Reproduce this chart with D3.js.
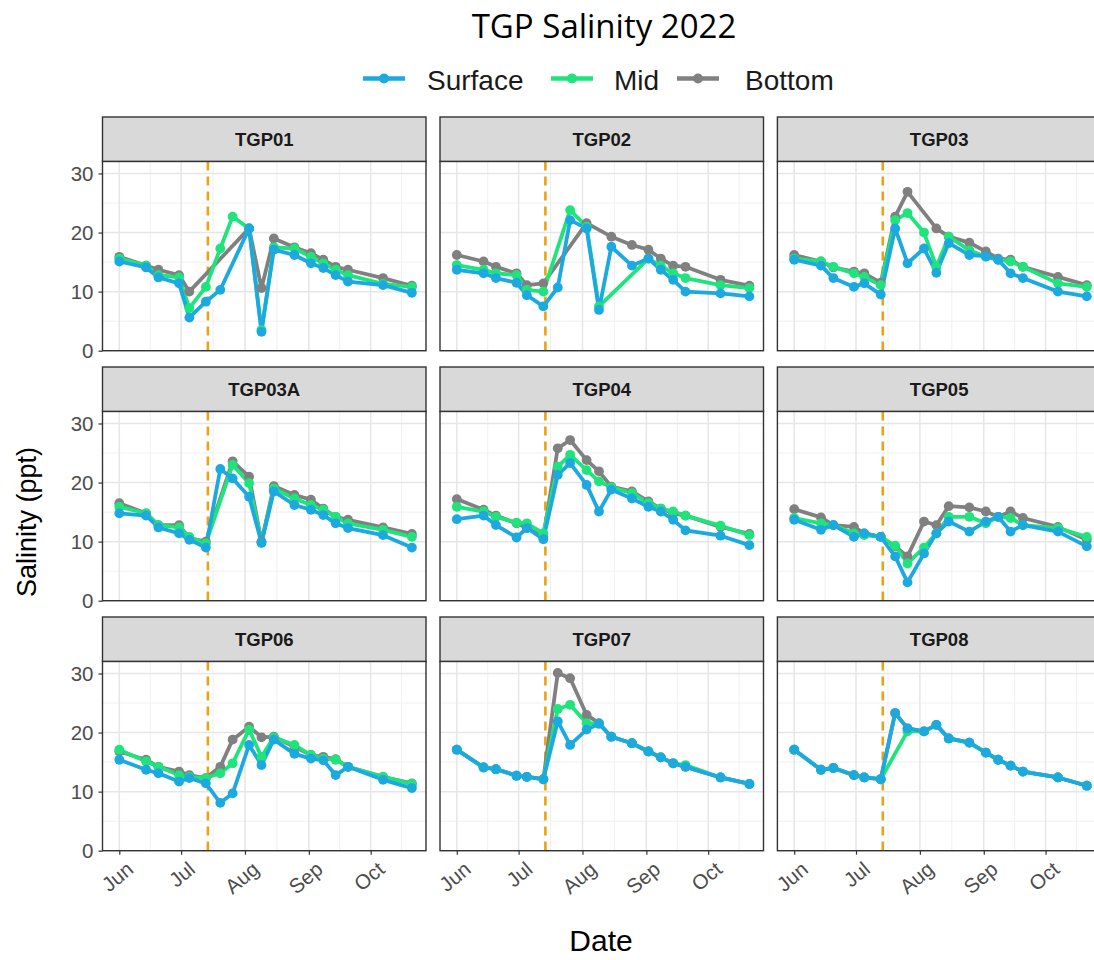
<!DOCTYPE html>
<html>
<head>
<meta charset="utf-8">
<script src="https://cdn.jsdelivr.net/npm/d3@7"></script>
<style>
  html, body { margin: 0; padding: 0; background: #ffffff; }
  svg { display: block; }
</style>
</head>
<body>
<svg id="chart" width="1094" height="960"></svg>
<script>
// Sampling dates shared by all stations
const sampleDates = ["2022-06-01","2022-06-14","2022-06-20","2022-06-30","2022-07-05","2022-07-13",
  "2022-07-20","2022-07-26","2022-08-03","2022-08-09","2022-08-15","2022-08-25","2022-09-02",
  "2022-09-08","2022-09-14","2022-09-20","2022-10-07","2022-10-21"];
const stations = ["TGP01","TGP02","TGP03","TGP03A","TGP04","TGP05","TGP06","TGP07","TGP08"];
const depths = ["Surface","Mid","Bottom"];
const eventDate = "2022-07-14";
const monthTicks = ["2022-06-01","2022-07-01","2022-08-01","2022-09-01","2022-10-01"];
const monthLabels = ["Jun","Jul","Aug","Sep","Oct"];
const yTicks = [0, 10, 20, 30];

// Salinity (ppt) by station and depth; null = no sample
const surface01 = [15.1,14.1,12.4,11.4,5.6,8.3,10.3,null,20.7,3.2,17.1,16.2,14.8,14.0,12.8,11.7,11.1,9.8];
const mid01     = [15.6,14.4,12.8,12.4,7.2,10.8,17.3,22.7,20.7,3.5,17.5,17.3,15.9,14.8,13.7,12.8,11.3,10.8];
const bottom01  = [15.9,14.4,13.7,12.8,10.0,null,null,null,20.7,10.6,19.0,17.5,16.5,15.4,14.2,13.7,12.3,11.0];

const surface02 = [13.7,13.1,12.3,11.5,9.4,7.5,10.7,22.1,20.7,6.9,17.6,14.4,15.6,13.7,12.0,10.0,9.7,9.2];
const mid02     = [14.5,13.7,13.1,12.8,10.3,10.0,null,23.8,21.0,7.5,null,null,15.6,14.4,13.1,12.3,11.1,10.6];
const bottom02  = [16.2,15.1,14.2,13.1,11.1,11.4,null,null,21.6,null,19.3,17.9,17.1,15.6,14.4,14.2,12.0,11.0];

const surface03 = [15.4,14.4,12.3,10.8,11.4,9.5,20.7,14.8,17.3,13.2,18.2,16.2,16.0,15.4,13.1,12.3,10.0,9.2];
const mid03     = [15.6,15.1,14.2,13.1,12.5,11.1,22.1,23.3,20.0,14.2,19.3,17.0,15.9,15.4,15.1,14.2,11.4,10.8];
const bottom03  = [16.2,15.1,14.1,13.4,13.1,11.5,22.7,26.9,null,20.7,19.3,18.3,16.8,15.6,15.4,14.2,12.5,11.1];

const surface03A = [14.8,14.4,12.4,11.4,10.3,9.0,22.3,20.7,17.6,9.8,18.5,16.2,15.4,14.5,13.1,12.3,11.1,9.0];
const mid03A     = [15.9,14.8,12.8,12.4,10.8,9.7,null,23.0,19.9,9.8,19.0,17.3,16.2,15.4,14.2,13.1,12.0,10.8];
const bottom03A  = [16.5,14.8,12.8,12.8,10.6,10.0,null,23.6,21.0,10.0,19.4,17.9,17.1,15.6,14.2,13.7,12.4,11.3];

const surface04 = [13.8,14.4,12.8,10.7,12.3,10.4,21.3,23.3,19.6,15.1,18.8,17.3,15.9,15.1,13.7,11.9,11.0,9.4];
const mid04     = [15.9,15.1,14.2,13.2,13.1,11.4,22.7,24.7,22.1,20.2,19.2,18.2,16.5,15.6,15.1,14.4,12.7,11.1];
const bottom04  = [17.2,15.4,14.4,13.1,12.3,10.8,25.8,27.2,23.8,21.9,19.3,18.5,16.8,15.6,14.8,14.4,12.5,11.3];

const surface05 = [13.7,12.0,12.8,10.8,11.4,10.8,7.5,3.1,8.0,11.4,13.4,11.7,13.4,14.2,11.7,12.8,11.7,9.2];
const mid05     = [14.0,13.1,12.8,11.4,11.1,10.8,9.3,6.3,9.0,11.4,14.2,14.2,13.1,14.2,14.0,12.8,12.3,10.8];
const bottom05  = [15.5,14.1,12.8,12.5,11.4,10.8,9.2,7.5,13.4,12.8,16.0,15.8,15.1,14.2,15.1,14.0,12.5,10.3];

const surface06 = [15.4,13.7,13.1,11.7,12.3,11.4,8.1,9.7,17.9,14.5,18.8,16.4,15.6,15.3,12.8,14.2,12.0,10.6];
const mid06     = [17.1,15.1,14.2,12.8,12.5,12.3,13.1,14.8,20.5,15.9,19.2,17.9,16.2,15.6,15.4,14.2,12.5,11.3];
const bottom06  = [16.8,15.4,14.2,13.4,12.8,12.3,14.2,18.8,21.0,19.2,19.3,17.6,16.2,15.9,15.5,14.2,12.5,11.4];

const surface07 = [17.1,14.1,13.8,12.7,12.5,12.1,21.9,17.9,20.5,21.5,19.3,18.2,16.8,15.8,14.8,14.2,12.4,11.3];
const mid07     = [17.1,14.1,13.8,12.7,12.5,12.1,24.0,24.7,21.6,21.5,19.3,18.2,16.8,15.8,14.8,14.5,12.4,11.3];
const bottom07  = [17.1,14.1,13.8,12.7,12.5,12.1,30.1,29.2,23.0,21.6,19.3,18.2,16.8,15.8,14.8,14.2,12.4,11.3];

const surface08 = [17.1,13.7,14.0,12.8,12.4,12.1,23.3,20.7,20.2,21.3,19.0,18.3,16.6,15.4,14.4,13.4,12.4,11.0];
const mid08     = [17.1,13.7,14.0,12.8,12.4,12.1,null,20.2,20.2,21.3,19.0,18.3,16.6,15.4,14.4,13.4,12.4,11.0];
const bottom08  = [17.1,13.7,14.0,12.8,12.4,12.1,23.3,20.7,20.2,21.3,19.0,18.3,16.6,15.4,14.4,13.4,12.4,11.0];

const seriesByStation = {
  TGP01:  { Surface: surface01,  Mid: mid01,  Bottom: bottom01 },
  TGP02:  { Surface: surface02,  Mid: mid02,  Bottom: bottom02 },
  TGP03:  { Surface: surface03,  Mid: mid03,  Bottom: bottom03 },
  TGP03A: { Surface: surface03A, Mid: mid03A, Bottom: bottom03A },
  TGP04:  { Surface: surface04,  Mid: mid04,  Bottom: bottom04 },
  TGP05:  { Surface: surface05,  Mid: mid05,  Bottom: bottom05 },
  TGP06:  { Surface: surface06,  Mid: mid06,  Bottom: bottom06 },
  TGP07:  { Surface: surface07,  Mid: mid07,  Bottom: bottom07 },
  TGP08:  { Surface: surface08,  Mid: mid08,  Bottom: bottom08 }
};

const colors = { Surface: "#1ca9e0", Mid: "#1fe47c", Bottom: "#808080" };

// ---- layout ----
const svg = d3.select("#chart");
svg.append("rect").attr("width", 1094).attr("height", 960).attr("fill", "#ffffff");

const parse = d3.utcParse("%Y-%m-%d");
const dates = sampleDates.map(parse);
const dayMs = 86400000;

const panelW = 323.5, stripH = 44.5, plotH = 189.2;
const colX = [102.5, 440, 777.4];
const rowY = [117, 367, 617];

const x = d3.scaleUtc()
  .domain([new Date(+dates[0] - 8.15 * dayMs), new Date(+dates[dates.length - 1] + 6.85 * dayMs)])
  .range([0, panelW]);
const y = d3.scaleLinear().domain([0, 32.03]).range([plotH, 0]);

const majorX = monthTicks.map(parse);
const minorX = majorX.map((d, i) => {
  const next = i < majorX.length - 1 ? majorX[i + 1] : new Date(+d + (d - majorX[i - 1]));
  return new Date((+d + +next) / 2);
}).filter(d => x(d) <= panelW);
const minorY = [5, 15, 25];

const line = d3.line()
  .x(d => x(d.date))
  .y(d => y(d.v));

const drawOrder = ["Bottom", "Mid", "Surface"];

stations.forEach((st, i) => {
  const col = i % 3, row = Math.floor(i / 3);
  const g = svg.append("g").attr("transform", `translate(${colX[col]},${rowY[row]})`);

  // strip
  g.append("rect").attr("x", 0).attr("y", 0).attr("width", panelW).attr("height", stripH)
    .attr("fill", "#d9d9d9").attr("stroke", "#333333").attr("stroke-width", 1.4);
  g.append("text").attr("x", panelW / 2).attr("y", stripH / 2 + 6.5)
    .attr("text-anchor", "middle").attr("font-family", "Liberation Sans, Arial, sans-serif")
    .attr("font-weight", "bold").attr("font-size", 18.5).attr("fill", "#1a1a1a").text(st);

  const p = g.append("g").attr("transform", `translate(0,${stripH})`);
  p.append("rect").attr("width", panelW).attr("height", plotH).attr("fill", "#ffffff");

  // grid
  p.selectAll(".gminx").data(minorX).join("line")
    .attr("x1", d => x(d)).attr("x2", d => x(d)).attr("y1", 0).attr("y2", plotH)
    .attr("stroke", "#f0f0f0").attr("stroke-width", 1);
  p.selectAll(".gminy").data(minorY).join("line")
    .attr("y1", d => y(d)).attr("y2", d => y(d)).attr("x1", 0).attr("x2", panelW)
    .attr("stroke", "#f0f0f0").attr("stroke-width", 1);
  p.selectAll(".gmajx").data(majorX).join("line")
    .attr("x1", d => x(d)).attr("x2", d => x(d)).attr("y1", 0).attr("y2", plotH)
    .attr("stroke", "#e6e6e6").attr("stroke-width", 1.5);
  p.selectAll(".gmajy").data(yTicks).join("line")
    .attr("y1", d => y(d)).attr("y2", d => y(d)).attr("x1", 0).attr("x2", panelW)
    .attr("stroke", "#e6e6e6").attr("stroke-width", 1.5);

  // event marker
  const ex = x(parse(eventDate));
  p.append("line").attr("x1", ex).attr("x2", ex).attr("y1", 0).attr("y2", plotH)
    .attr("stroke", "#e8a317").attr("stroke-width", 2.6).attr("stroke-dasharray", "9,6");

  // series: missing samples are skipped, so the line joins the neighbouring samples
  const series = drawOrder.map(dp => ({
    depth: dp,
    pts: seriesByStation[st][dp]
      .map((v, k) => ({ date: dates[k], v: v }))
      .filter(d => d.v !== null)
  }));
  series.forEach(s => {
    p.append("path").datum(s.pts)
      .attr("d", line).attr("fill", "none")
      .attr("stroke", colors[s.depth]).attr("stroke-width", 3.8)
      .attr("stroke-linejoin", "round").attr("stroke-linecap", "round");
  });
  series.forEach(s => {
    p.selectAll(null).data(s.pts).join("circle")
      .attr("cx", d => x(d.date)).attr("cy", d => y(d.v)).attr("r", 4.9)
      .attr("fill", colors[s.depth]);
  });

  // border
  p.append("rect").attr("width", panelW).attr("height", plotH)
    .attr("fill", "none").attr("stroke", "#333333").attr("stroke-width", 1.4);

  // y axis on the left column
  if (col === 0) {
    const ya = p.append("g").call(d3.axisLeft(y).tickValues(yTicks).tickSize(4).tickPadding(5).tickFormat(d3.format("d")));
    ya.select(".domain").remove();
    ya.selectAll("line").attr("stroke", "#333333").attr("stroke-width", 1.2);
    ya.selectAll("text").attr("font-family", "Liberation Sans, Arial, sans-serif")
      .attr("font-size", 20.5).attr("fill", "#4d4d4d");
  }
  // x axis on the bottom row
  if (row === 2) {
    const xa = p.append("g").attr("transform", `translate(0,${plotH})`)
      .call(d3.axisBottom(x).tickValues(majorX).tickSize(4).tickFormat((d, k) => monthLabels[k]));
    xa.select(".domain").remove();
    xa.selectAll("line").attr("stroke", "#333333").attr("stroke-width", 1.2);
    xa.selectAll("text")
      .attr("font-family", "Liberation Sans, Arial, sans-serif").attr("font-size", 20.5)
      .attr("fill", "#4d4d4d").attr("text-anchor", "end")
      .attr("x", 5).attr("y", 9).attr("dy", "0.75em")
      .attr("transform", "rotate(-40 5 9)");
  }
});

// titles
svg.append("text").attr("x", 604).attr("y", 38).attr("text-anchor", "middle")
  .attr("font-family", "Open Sans, Noto Sans, sans-serif").attr("font-size", 33)
  .attr("fill", "#000000").text("TGP Salinity 2022");

svg.append("text").attr("x", 601).attr("y", 951).attr("text-anchor", "middle")
  .attr("font-family", "Liberation Sans, Arial, sans-serif").attr("font-size", 30)
  .attr("fill", "#000000").text("Date");

svg.append("text").attr("transform", "translate(36,522) rotate(-90)").attr("text-anchor", "middle")
  .attr("font-family", "Liberation Sans, Arial, sans-serif").attr("font-size", 27)
  .attr("fill", "#000000").text("Salinity (ppt)");

// legend
const legendKeys = [
  { depth: "Surface", kx: 363, tx: 427 },
  { depth: "Mid", kx: 551, tx: 614 },
  { depth: "Bottom", kx: 677, tx: 745 }
];
const lg = svg.append("g");
legendKeys.forEach(k => {
  lg.append("line").attr("x1", k.kx).attr("x2", k.kx + 42).attr("y1", 78.5).attr("y2", 78.5)
    .attr("stroke", colors[k.depth]).attr("stroke-width", 4.6);
  lg.append("circle").attr("cx", k.kx + 21).attr("cy", 78.5).attr("r", 5).attr("fill", colors[k.depth]);
  lg.append("text").attr("x", k.tx).attr("y", 90).attr("font-family", "Liberation Sans, Arial, sans-serif")
    .attr("font-size", 28).attr("fill", "#1a1a1a").text(k.depth);
});
</script>
</body>
</html>
